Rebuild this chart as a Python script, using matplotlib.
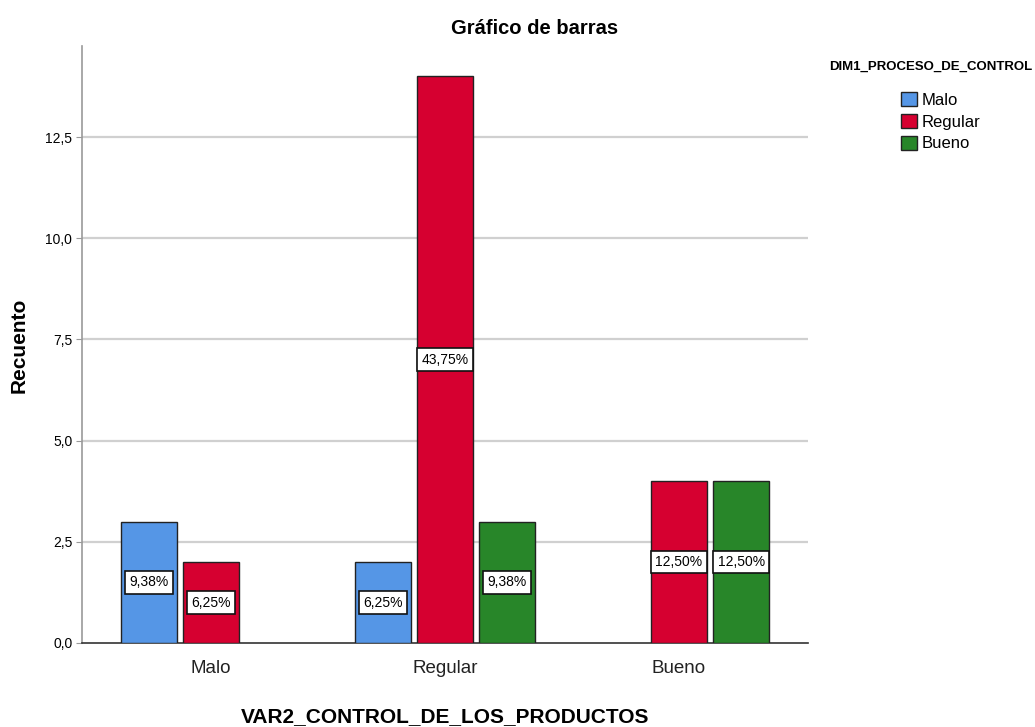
import numpy as np
import matplotlib
matplotlib.use("Agg")
import matplotlib.pyplot as plt
from matplotlib.patches import Patch

plt.rcParams["font.family"] = ["Liberation Sans", "DejaVu Sans"]

# data: counts of VAR2 categories (x axis) for each DIM1 level (series)
categories = ["Malo", "Regular", "Bueno"]
series = ["Malo", "Regular", "Bueno"]
counts_malo = [3, 2, 0]       # blue
counts_regular = [2, 14, 4]   # red
counts_bueno = [0, 3, 4]      # green
total_n = 32
colors = ["#5596e6", "#d60030", "#288629"]

all_counts = [counts_malo, counts_regular, counts_bueno]

fig = plt.figure(figsize=(10.35, 7.27), dpi=100)
ax = fig.add_axes([82 / 1035, 1 - 643 / 727, (808 - 82) / 1035, (643 - 46) / 727])

x = np.arange(len(categories))
slot = 0.265
width = 0.239
for i, (name, vals, col) in enumerate(zip(series, all_counts, colors)):
    xs = x + (i - 1) * slot
    for xi, v in zip(xs, vals):
        if v == 0:
            continue
        ax.bar(xi, v, width=width, color=col, edgecolor="#222222", lw=1.0, zorder=3)
        pct = f"{100 * v / total_n:.2f}%".replace(".", ",")
        ax.text(xi, v / 2, pct, ha="center", va="center", fontsize=10, zorder=4,
                bbox=dict(boxstyle="square,pad=0.32", fc="white", ec="#111111", lw=1.2))

ax.set_xlim(-0.551, 2.551)
ax.set_ylim(0, 14.75)
yt = np.arange(0, 12.6, 2.5)
ax.set_yticks(yt)
ax.set_yticklabels([f"{v:.1f}".replace(".", ",") for v in yt], fontsize=10)
for v in yt[1:]:
    ax.axhline(v, color="#d0d0d0", lw=1.6, zorder=1)
ax.set_xticks(x)
ax.set_xticklabels(categories, fontsize=13.5, color="#222222")
ax.tick_params(axis="x", length=0, pad=12)
ax.tick_params(axis="y", length=4, color="#999999", pad=3)
for s in ("top", "right"):
    ax.spines[s].set_visible(False)
ax.spines["left"].set_color("#999999")
ax.spines["left"].set_linewidth(1.2)
ax.spines["bottom"].set_color("#333333")
ax.spines["bottom"].set_linewidth(1.2)

ax.set_xlabel("VAR2_CONTROL_DE_LOS_PRODUCTOS", fontsize=15, fontweight="bold", labelpad=22)
fig.text(19 / 1035, 1 - 345 / 727, "Recuento", rotation=90, ha="center", va="center",
         fontsize=15, fontweight="bold")
fig.text(535 / 1035, 1 - 29 / 727, "Gráfico de barras", ha="center", va="center",
         fontsize=14.5, fontweight="bold")

# legend: title placed separately, entries below it
fig.text(931 / 1035, 1 - 67 / 727, "DIM1_PROCESO_DE_CONTROL", ha="center", va="center",
         fontsize=9.5, fontweight="bold")
handles = [Patch(facecolor=c, edgecolor="#222222", lw=1.0, label=s) for s, c in zip(series, colors)]
fig.legend(handles=handles, loc="upper left", bbox_to_anchor=(886 / 1035, 1 - 77 / 727),
           frameon=False, prop=dict(size=12),
           handlelength=0.95, handleheight=0.95, handletextpad=0.3, labelspacing=0.35)

fig.savefig("out.png", dpi=100)
